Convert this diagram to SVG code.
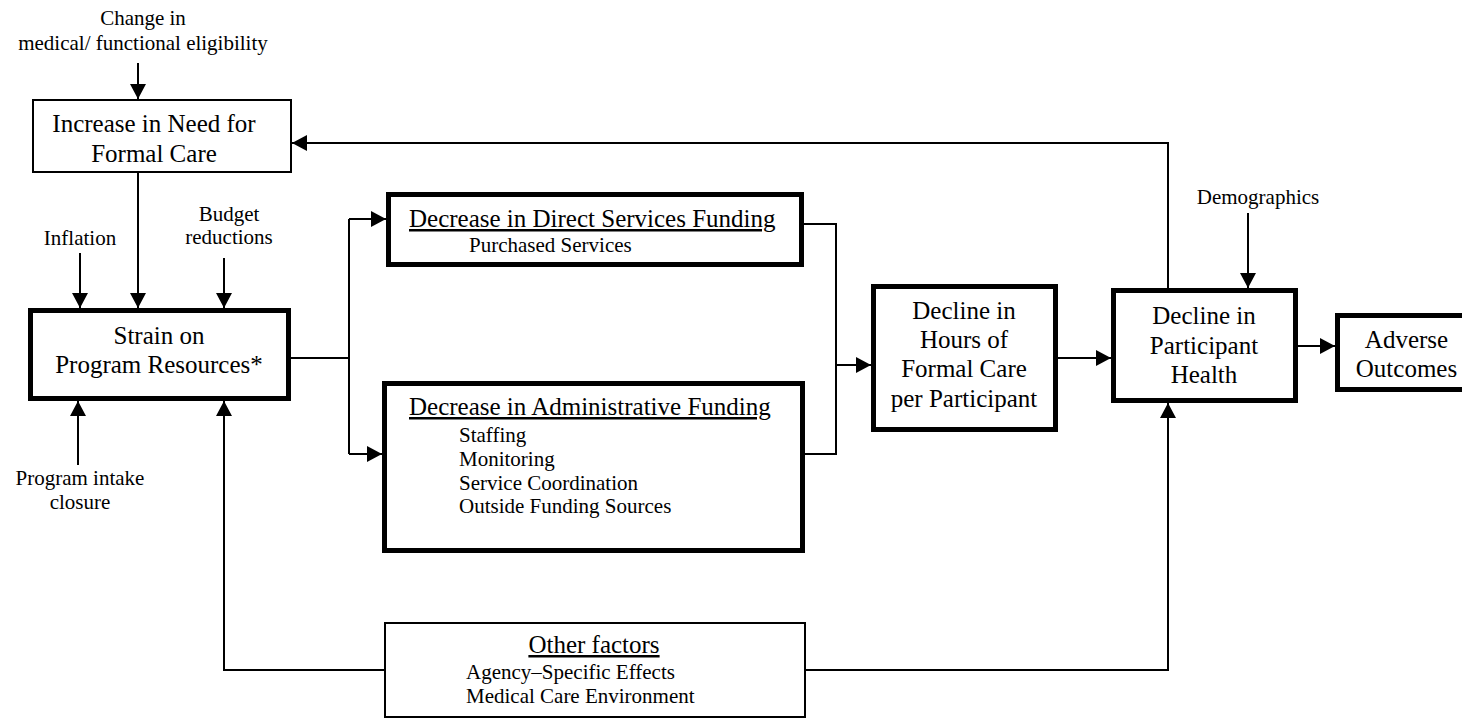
<svg xmlns="http://www.w3.org/2000/svg" width="1462" height="719" viewBox="0 0 1462 719">
<style>
text{font-family:"Liberation Serif","Times New Roman",serif;fill:#000}
.t{font-size:25px}
.s{font-size:21px}
.c{text-anchor:middle}
.u{text-decoration:underline}
.thick{fill:#fff;stroke:#000;stroke-width:5}
.thin{fill:#fff;stroke:#000;stroke-width:2}
.ln{fill:none;stroke:#000;stroke-width:2}
.ar{fill:none;stroke:#000;stroke-width:2;marker-end:url(#ah)}
</style>
<defs>
<marker id="ah" markerUnits="userSpaceOnUse" markerWidth="16" markerHeight="16" refX="15" refY="8" orient="auto">
<path d="M0,0 L15,8 L0,16 Z" fill="#000"/>
</marker>
</defs>
<rect width="1462" height="719" fill="#fff"/>
<g id="connectors">
<path class="ar" d="M138,63 V99"/>
<path class="ar" d="M138,173 V308"/>
<path class="ar" d="M80,253 V308"/>
<path class="ar" d="M224,258 V308"/>
<path class="ar" d="M78,465 V401"/>
<path class="ln" d="M291,358 H349 M349,219 V454"/>
<path class="ar" d="M349,219 H386"/>
<path class="ar" d="M349,454 H382"/>
<path class="ln" d="M804,224 H836 V454 H805"/>
<path class="ar" d="M836,365 H871"/>
<path class="ar" d="M1058,358 H1111"/>
<path class="ar" d="M1298,346 H1335"/>
<path class="ar" d="M1248,213 V288"/>
<path class="ar" d="M1168,288 V143 H292"/>
<path class="ar" d="M384,670 H224 V401"/>
<path class="ar" d="M806,670 H1168 V403"/>
</g>
<g id="label-change">
<text class="s c" x="143" y="25">Change in</text>
<text class="s c" x="143" y="50">medical/ functional eligibility</text>
</g>
<g id="label-inflation"><text class="s c" x="80" y="245">Inflation</text></g>
<g id="label-budget">
<text class="s c" x="229" y="221">Budget</text>
<text class="s c" x="229" y="244">reductions</text>
</g>
<g id="label-intake">
<text class="s c" x="80" y="485">Program intake</text>
<text class="s c" x="80" y="509">closure</text>
</g>
<g id="label-demographics"><text class="s c" x="1258" y="204">Demographics</text></g>
<g id="node-increase">
<rect class="thin" x="33" y="100" width="258" height="72"/>
<text class="t c" x="154" y="132">Increase in Need for</text>
<text class="t c" x="154" y="162">Formal Care</text>
</g>
<g id="node-strain">
<rect class="thick" x="30.5" y="310.5" width="258" height="88"/>
<text class="t c" x="159" y="344">Strain on</text>
<text class="t c" x="159" y="373">Program Resources*</text>
</g>
<g id="node-direct">
<rect class="thick" x="388.5" y="194.5" width="413" height="70"/>
<text class="t u" x="409" y="227">Decrease in Direct Services Funding</text>
<text class="s" x="469" y="252">Purchased Services</text>
</g>
<g id="node-admin">
<rect class="thick" x="384.5" y="383.5" width="418" height="167"/>
<text class="t u" x="409" y="415">Decrease in Administrative Funding</text>
<text class="s" x="459" y="442">Staffing</text>
<text class="s" x="459" y="466">Monitoring</text>
<text class="s" x="459" y="490">Service Coordination</text>
<text class="s" x="459" y="513">Outside Funding Sources</text>
</g>
<g id="node-hours">
<rect class="thick" x="873.5" y="286.5" width="182" height="143"/>
<text class="t c" x="964" y="319">Decline in</text>
<text class="t c" x="964" y="348">Hours of</text>
<text class="t c" x="964" y="377">Formal Care</text>
<text class="t c" x="964" y="407">per Participant</text>
</g>
<g id="node-health">
<rect class="thick" x="1113.5" y="290.5" width="182" height="110"/>
<text class="t c" x="1204" y="324">Decline in</text>
<text class="t c" x="1204" y="354">Participant</text>
<text class="t c" x="1204" y="383">Health</text>
</g>
<g id="node-adverse">
<rect class="thick" x="1337.5" y="315.5" width="135" height="74"/>
<text class="t c" x="1406.5" y="348">Adverse</text>
<text class="t c" x="1406.5" y="377">Outcomes</text>
</g>
<g id="node-other">
<rect class="thin" x="385" y="623" width="420" height="94"/>
<text class="t c u" x="594" y="653">Other factors</text>
<text class="s" x="466" y="679">Agency–Specific Effects</text>
<text class="s" x="466" y="703">Medical Care Environment</text>
</g>
</svg>
